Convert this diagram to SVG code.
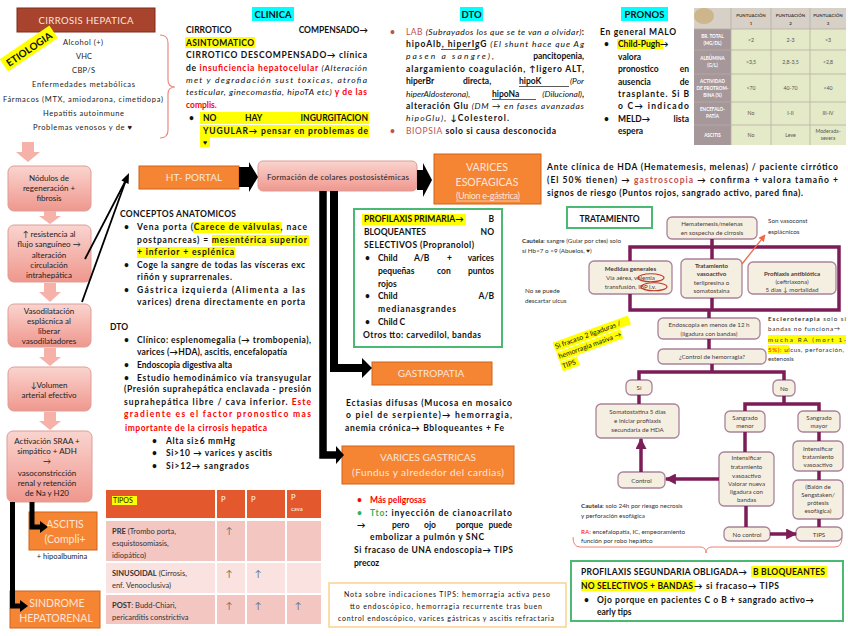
<svg xmlns="http://www.w3.org/2000/svg" width="848" height="636" viewBox="0 0 848 636">
<defs>
<linearGradient id="pk" x1="0" y1="0" x2="0" y2="1"><stop offset="0" stop-color="#fad4cf"/><stop offset="1" stop-color="#ef978d"/></linearGradient>
<marker id="pa" viewBox="0 0 10 10" refX="9" refY="5" markerWidth="11" markerHeight="11" markerUnits="userSpaceOnUse" orient="auto"><path d="M0,0L10,5L0,10z" fill="#7c1d58"/></marker>
<marker id="oa" viewBox="0 0 10 10" refX="9" refY="5" markerWidth="7" markerHeight="7" markerUnits="userSpaceOnUse" orient="auto"><path d="M0,0L10,5L0,10z" fill="#ee6a44"/></marker>
</defs>
<style>
svg{font-family:Lato,'Liberation Sans','DejaVu Sans',sans-serif;font-size:8.5px;font-weight:700}
text{fill:#111}
.n{font-weight:400}
.i{font-style:italic;font-weight:400}
.r{fill:#ff0000}
.rb{fill:#c0504d}
.gr{fill:#2eb060}
.w{fill:#fff}
.wp{fill:#fde6dc}
.c{text-anchor:middle}
.e{text-anchor:end}
.pink{fill:url(#pk);stroke:#dd9e96;stroke-width:1}
.org{fill:#f58532;stroke:#d0631c;stroke-width:1}
.grn{fill:#fff;stroke:#4bb874;stroke-width:2}
.hy{fill:#ffff00}
.hc{fill:#00ffff}
.fb{fill:#f5efe1;stroke:#a9839a;stroke-width:1.3}
.ft{font-size:6.2px;font-weight:400;fill:#4a3a3a}
.fbo{font-weight:700}
.sm{font-size:6.3px;font-weight:400;fill:#333}
.et{font-size:7.5px;font-weight:400;fill:#222}
.bx{font-size:8px;font-weight:400;fill:#222}
.tb{font-size:7.5px;font-weight:400;fill:#333}
.pl{stroke:#7c1d58;stroke-width:3.5;fill:none}
.pka{fill:#f6b1a8}
.cph{font-size:4.4px;font-weight:700;fill:#4a3f3a}
.cpl{font-size:4.6px;font-weight:700;fill:#fff}
.cpd{font-size:5.2px;font-weight:400;fill:#555}
.up{font-size:9px;font-weight:400;fill:#666}
</style>
<rect width="848" height="636" fill="#fff"/>

<g id="cirrosis">
<rect x="17" y="8" width="138" height="24" fill="#a8432d" stroke="#7a2c1c"/>
<text x="86" y="24" class="c n wp" font-size="9.5" textLength="95">CIRROSIS HEPATICA</text>
</g>

<g id="etiologia">
<g transform="translate(29,49) rotate(-34)">
<rect x="-30" y="-8" width="60" height="15" class="hy"/>
<text x="0" y="3.8" class="c" font-size="10">ETIOLOGIA</text>
</g>
<text x="83" y="45" class="c et" textLength="40">Alcohol (+)</text>
<text x="84" y="59" class="c et" textLength="16">VHC</text>
<text x="83.5" y="73" class="c et" textLength="23">CBP/S</text>
<text x="83.5" y="87" class="c et" textLength="103">Enfermedades metabólicas</text>
<text x="83" y="102" class="c et" textLength="160">Fármacos (MTX, amiodarona, cimetidopa)</text>
<text x="83.5" y="116" class="c et" textLength="81">Hepatitis autoinmune</text>
<text x="82.5" y="130" class="c et" textLength="99">Problemas venosos y de ♥</text>
<path d="M160,35 Q168,35 168,43 V80 Q168,87 175,87 Q168,87 168,94 V130 Q168,138 160,138" fill="none" stroke="#ec8a80" stroke-width="1.2"/>
</g>

<g id="nodulos">
<rect x="8" y="166" width="83" height="45" rx="6" class="pink"/>
<text x="49" y="181" class="c bx">Nódulos de</text>
<text x="49" y="191" class="c bx">regeneración +</text>
<text x="49" y="201" class="c bx">fibrosis</text>
</g>
<g id="resistencia">
<rect x="8" y="225" width="83" height="57" rx="6" class="pink"/>
<text x="49" y="237" class="c bx">↑ resistencia al</text>
<text x="49" y="247" class="c bx">flujo sanguíneo →</text>
<text x="49" y="258" class="c bx">alteración</text>
<text x="49" y="268" class="c bx">circulación</text>
<text x="49" y="278" class="c bx">intrahepática</text>
</g>
<g id="vasodilatacion">
<rect x="8" y="304" width="83" height="43" rx="6" class="pink"/>
<text x="49" y="314" class="c bx">Vasodilatación</text>
<text x="49" y="324" class="c bx">esplácnica al</text>
<text x="49" y="334" class="c bx">liberar</text>
<text x="49" y="344" class="c bx">vasodilatadores</text>
</g>
<g id="volumen">
<rect x="8" y="367" width="83" height="44" rx="6" class="pink"/>
<text x="49" y="388" class="c bx">↓Volumen</text>
<text x="49" y="398" class="c bx">arterial efectivo</text>
</g>
<g id="sraa">
<rect x="7" y="431" width="85" height="71" rx="6" class="pink"/>
<text x="47" y="444" class="c bx">Activación SRAA +</text>
<text x="47" y="454" class="c bx">simpático + ADH</text>
<text x="47" y="464" class="c bx">→</text>
<text x="47" y="476" class="c bx">vasoconstricción</text>
<text x="47" y="486" class="c bx">renal y retención</text>
<text x="47" y="496" class="c bx">de Na y H20</text>
</g>
<g id="ascitis">
<rect x="29" y="512" width="68" height="38" class="org"/>
<text x="65" y="528" class="c n wp" font-size="10.5">ASCITIS</text>
<text x="65" y="543" class="c n wp" font-size="10.5">(Compli+</text>
<text x="62" y="559" class="c et">+ hipoalbumina</text>
</g>
<g id="hepatorenal">
<rect x="10" y="591" width="90" height="37" class="org"/>
<text x="57" y="607" class="c n wp" font-size="10.5">SINDROME</text>
<text x="56" y="622" class="c n wp" font-size="10.5">HEPATORENAL</text>
</g>

<g id="htportal">
<rect x="139" y="166" width="100" height="23" class="org"/>
<text x="194" y="181" class="c n wp" font-size="10">HT- PORTAL</text>
</g>
<g id="colaterales">
<rect x="258" y="161" width="159" height="30" rx="5" class="pink"/>
<text x="338" y="180" class="c bx" textLength="142">Formación de colares postosistémicas</text>
</g>
<g id="varicesesof">
<rect x="434" y="154" width="107" height="50" class="org"/>
<text x="487" y="171" class="c n wp" font-size="10.5">VARICES</text>
<text x="487" y="186" class="c n wp" font-size="10.5">ESOFAGICAS</text>
<text x="488" y="199" class="c n wp" font-size="9" textLength="64">(Union e-gástrica)</text>
<line x1="456" y1="201" x2="520" y2="201" stroke="#fde6dc" stroke-width="0.7"/>
</g>

<g id="clinica">
<rect class="hc" x="252" y="7" width="42" height="14"/>
<text x="273" y="18" class="c" font-size="9.5">CLINICA</text>
<rect class="hy" x="185" y="37" width="70" height="11"/>
<rect class="hy" x="200" y="112" width="169" height="12"/>
<rect class="hy" x="200" y="125" width="169" height="12"/>
<rect class="hy" x="200" y="137" width="10" height="10"/>
<text x="186" y="33">CIRROTICO</text>
<text x="368" y="33" class="e">COMPENSADO→</text>
<text x="186" y="46" textLength="68">ASINTOMATICO</text>
<text x="186" y="58" textLength="181">CIRROTICO DESCOMPENSADO→ clínica</text>
<text x="186" y="71" textLength="181">de <tspan class="r">insuficiencia hepatocelular</tspan> <tspan class="i">(Alteración</tspan></text>
<text x="186" y="83" textLength="181" class="i">met y degradación sust toxicas, atrofia</text>
<text x="186" y="95" textLength="181"><tspan class="i">testicular, ginecomastia, hipoTA etc)</tspan><tspan class="r"> y de las</tspan></text>
<text x="186" y="108" class="r">complis.</text>
<text x="189" y="121">•</text>
<text x="203" y="121">NO</text>
<text x="245" y="121">HAY</text>
<text x="368" y="121" class="e">INGURGITACION</text>
<text x="203" y="134" textLength="165">YUGULAR→ pensar en problemas de</text>
<text x="203" y="145" font-size="7">♥</text>
</g>

<g id="dtolab">
<rect class="hc" x="460" y="7" width="23" height="14"/>
<text x="471.5" y="18" class="c" font-size="9.5">DTO</text>
<text x="390" y="35" class="rb">•</text>
<text x="406" y="35" textLength="178"><tspan class="rb n">LAB </tspan><tspan class="i">(Subrayados los que se te van a olvidar)</tspan>:</text>
<text x="406" y="47" textLength="178">hipoAlb, hiperIgG <tspan class="i">(El shunt hace que Ag</tspan></text>
<line x1="441" y1="49.5" x2="477" y2="49.5" stroke="#111" stroke-width="0.7"/>
<text x="406" y="59" class="i" textLength="88">pasen a sangre),</text>
<text x="584" y="59" class="e">pancitopenia,</text>
<text x="406" y="72" textLength="178">alargamiento coagulación, ↑ligero ALT,</text>
<text x="406" y="84">hiperBr</text>
<text x="463" y="84">directa,</text>
<text x="519" y="84">hipoK</text>
<text x="584" y="84" class="e i">(Por</text>
<line x1="519" y1="86.5" x2="569" y2="86.5" stroke="#111" stroke-width="0.7"/>
<text x="406" y="97" class="i">hiperAldosterona),</text>
<text x="492" y="97">hipoNa</text>
<text x="584" y="97" class="e"><tspan class="i">(Dilucional)</tspan>,</text>
<line x1="492" y1="99.5" x2="536" y2="99.5" stroke="#111" stroke-width="0.7"/>
<text x="406" y="109" textLength="178">alteración Glu <tspan class="i">(DM → en fases avanzadas</tspan></text>
<text x="406" y="121" textLength="103"><tspan class="i">hipoGlu),</tspan> ↓Colesterol.</text>
<text x="390" y="134" class="rb">•</text>
<text x="406" y="134" textLength="150"><tspan class="rb n">BIOPSIA</tspan> solo si causa desconocida</text>
</g>

<g id="pronos">
<rect class="hc" x="621" y="7" width="47" height="14"/>
<text x="644.5" y="18" class="c" font-size="9.5">PRONOS</text>
<text x="600" y="35" textLength="76">En general MALO</text>
<rect class="hy" x="617" y="39" width="46" height="10"/>
<text x="604" y="47">•</text>
<text x="618" y="47">Child-Pugh→</text>
<text x="618" y="60">valora</text>
<text x="618" y="72">pronostico</text><text x="689" y="72" class="e">en</text>
<text x="618" y="85">ausencia</text><text x="689" y="85" class="e">de</text>
<text x="618" y="97" textLength="71">trasplante. Si B</text>
<text x="618" y="109" textLength="71">o C→ indicado</text>
<text x="604" y="122">•</text>
<text x="618" y="122">MELD→</text><text x="689" y="122" class="e">lista</text>
<text x="618" y="134">espera</text>
</g>

<g id="childpugh">
<rect x="694" y="8" width="152" height="137" fill="#e4e9c7"/>
<rect x="694" y="8" width="152" height="21" fill="#d7d0c6"/>
<rect x="694" y="29" width="37" height="116" fill="#a6979b"/>
<ellipse cx="704" cy="16" rx="10" ry="8" fill="#cdb68c"/>
<g stroke="#b6aea4" stroke-width="0.8">
<line x1="731" y1="8" x2="731" y2="145"/><line x1="771" y1="8" x2="771" y2="145"/><line x1="810" y1="8" x2="810" y2="145"/>
<line x1="694" y1="29" x2="846" y2="29"/><line x1="694" y1="50" x2="846" y2="50"/><line x1="694" y1="74" x2="846" y2="74"/><line x1="694" y1="102" x2="846" y2="102"/><line x1="694" y1="125" x2="846" y2="125"/>
</g>
<text x="751" y="17" class="c cph">PUNTUACIÓN</text><text x="751" y="25" class="c cph">1</text>
<text x="790.5" y="17" class="c cph">PUNTUACIÓN</text><text x="790.5" y="25" class="c cph">2</text>
<text x="828" y="17" class="c cph">PUNTUACIÓN</text><text x="828" y="25" class="c cph">3</text>
<text x="712.5" y="38" class="c cpl">BR. TOTAL</text><text x="712.5" y="45" class="c cpl" font-size="3.8">(MG/DL)</text>
<text x="712.5" y="60" class="c cpl">ALBÚMINA</text><text x="712.5" y="67" class="c cpl" font-size="3.8">(G/L)</text>
<text x="712.5" y="83" class="c cpl">ACTIVIDAD</text><text x="712.5" y="90" class="c cpl">DE PROTROM-</text><text x="712.5" y="97" class="c cpl">BINA (%)</text>
<text x="712.5" y="111" class="c cpl">ENCEFALO-</text><text x="712.5" y="118" class="c cpl">PATÍA</text>
<text x="712.5" y="137" class="c cpl">ASCITIS</text>
<text x="751" y="42" class="c cpd">&lt;2</text><text x="790.5" y="42" class="c cpd">2-3</text><text x="828" y="42" class="c cpd">&gt;3</text>
<text x="751" y="64" class="c cpd">&gt;3,5</text><text x="790.5" y="64" class="c cpd">2,8-3,5</text><text x="828" y="64" class="c cpd">&lt;2,8</text>
<text x="751" y="90" class="c cpd">&gt;70</text><text x="790.5" y="90" class="c cpd">40-70</text><text x="828" y="90" class="c cpd">&lt;40</text>
<text x="751" y="115" class="c cpd">No</text><text x="790.5" y="115" class="c cpd">I-II</text><text x="828" y="115" class="c cpd">III-IV</text>
<text x="751" y="137" class="c cpd">No</text><text x="790.5" y="137" class="c cpd">Leve</text><text x="828" y="133" class="c cpd" font-size="4.6">Moderada-</text><text x="828" y="140" class="c cpd" font-size="4.6">severa</text>
</g>

<g id="anteclinica">
<text x="547" y="170" textLength="291">Ante clínica de HDA (Hematemesis, melenas) / paciente cirrótico</text>
<text x="547" y="183" textLength="291">(El 50% tienen) → <tspan class="rb">gastroscopia</tspan> → confirma + valora tamaño +</text>
<text x="547" y="196" textLength="256">signos de riesgo (Puntos rojos, sangrado activo, pared fina).</text>
</g>

<g id="conceptos">
<rect class="hy" x="193" y="222" width="89" height="11"/>
<rect class="hy" x="212" y="235" width="97" height="11"/>
<rect class="hy" x="137" y="247" width="98" height="11"/>
<text x="120" y="217" textLength="116">CONCEPTOS ANATOMICOS</text>
<text x="124" y="230">•</text>
<text x="137" y="230" textLength="170">Vena porta (Carece de válvulas, nace</text>
<text x="137" y="243" textLength="170">postpancreas) = mesentérica superior</text>
<text x="137" y="255" textLength="97">+ inferior + esplénica</text>
<text x="124" y="268">•</text>
<text x="137" y="268" textLength="168">Coge la sangre de todas las vísceras exc</text>
<text x="137" y="280" textLength="95">riñón y suprarrenales.</text>
<text x="124" y="293">•</text>
<text x="137" y="293" textLength="168">Gástrica izquierda (Alimenta a las</text>
<text x="137" y="305" textLength="168">varices) drena directamente en porta</text>
</g>
<g id="dtoportal">
<text x="110" y="330">DTO</text>
<text x="124" y="343">•</text>
<text x="137" y="343" textLength="174">Clínico: esplenomegalia (→ trombopenia),</text>
<text x="137" y="355" textLength="150">varices (→HDA), ascitis, encefalopatía</text>
<text x="124" y="368">•</text>
<text x="137" y="368" textLength="95">Endoscopia digestiva alta</text>
<text x="124" y="381">•</text>
<text x="137" y="381" textLength="174">Estudio hemodinámico vía transyugular</text>
<text x="124" y="392" textLength="187">(Presión suprahepática enclavada - presión</text>
<text x="124" y="405" textLength="187">suprahepática libre / cava inferior. <tspan class="r">Este</tspan></text>
<text x="124" y="417" textLength="187" class="r">gradiente es el factor pronostico mas</text>
<text x="125" y="431" textLength="142" class="r">importante de la cirrosis hepatica</text>
<text x="152" y="444">•</text><text x="166" y="444" textLength="69">Alta si≥6 mmHg</text>
<text x="152" y="456">•</text><text x="166" y="456" textLength="106">Si&gt;10 → varices y ascitis</text>
<text x="152" y="469">•</text><text x="166" y="469" textLength="83">Si&gt;12→ sangrados</text>
</g>

<g id="tipos">
<rect x="106" y="490" width="215" height="28" fill="#e4582d"/>
<rect x="106" y="521" width="215" height="40" fill="#f3c6c2"/>
<rect x="106" y="563" width="215" height="30" fill="#f9e2df"/>
<rect x="106" y="595" width="215" height="29" fill="#f3c6c2"/>
<g stroke="#fff" stroke-width="2"><line x1="216" y1="490" x2="216" y2="624"/><line x1="246" y1="490" x2="246" y2="624"/><line x1="286" y1="490" x2="286" y2="624"/></g>
<rect class="hy" x="112" y="496" width="25" height="9"/>
<text x="113" y="503" class="n" font-size="7">TIPOS</text>
<text x="221" y="502" class="w n" font-size="7.5">P</text>
<text x="251" y="502" class="w n" font-size="7.5">P</text>
<text x="291" y="500" class="w n" font-size="7.5">P</text>
<text x="291" y="511" class="w n" font-size="6">cava</text>
<text x="112" y="534" class="tb"><tspan font-weight="700">PRE</tspan> (Trombo porta,</text>
<text x="112" y="546" class="tb">esquistosomiasis,</text>
<text x="112" y="558" class="tb">idiopático)</text>
<text x="112" y="576" class="tb"><tspan font-weight="700">SINUSOIDAL</tspan> (Cirrosis,</text>
<text x="112" y="588" class="tb">enf. Venooclusiva)</text>
<text x="112" y="608" class="tb"><tspan font-weight="700">POST</tspan>: Budd-Chiari,</text>
<text x="112" y="620" class="tb">pericarditis constrictiva</text>
<text x="229" y="534" class="c up">↑</text>
<text x="229" y="577" class="c up">↑</text><text x="258" y="577" class="c up">↑</text>
<text x="229" y="609" class="c up">↑</text><text x="258" y="609" class="c up">↑</text><text x="298" y="609" class="c up">↑</text>
</g>

<g id="profprimaria">
<rect x="354" y="209" width="148" height="138" class="grn"/>
<rect class="hy" x="362" y="214" width="104" height="11"/>
<text x="364" y="222">PROFILAXIS PRIMARIA→</text><text x="494" y="222" class="e">B</text>
<text x="364" y="235">BLOQUEANTES</text><text x="494" y="235" class="e">NO</text>
<text x="364" y="248" textLength="110">SELECTIVOS (Propranolol)</text>
<text x="365" y="261">•</text><text x="378" y="261">Child</text><text x="414" y="261">A/B</text><text x="447" y="261">+</text><text x="494" y="261" class="e">varices</text>
<text x="378" y="274">pequeñas</text><text x="437" y="274">con</text><text x="494" y="274" class="e">puntos</text>
<text x="378" y="287">rojos</text>
<text x="365" y="299">•</text><text x="378" y="299">Child</text><text x="494" y="299" class="e">A/B</text>
<text x="378" y="312" textLength="78">medianasgrandes</text>
<text x="365" y="325">•</text><text x="378" y="325">Child C</text>
<text x="363" y="338" textLength="118">Otros tto: carvedilol, bandas</text>
</g>

<g id="gastropatia">
<rect x="372" y="362" width="120" height="23" class="org"/>
<text x="431" y="377" class="c n wp" font-size="10">GASTROPATIA</text>
<text x="346" y="406" textLength="166">Ectasias difusas (Mucosa en mosaico</text>
<text x="346" y="418" textLength="166">o piel de serpiente)→ hemorragia,</text>
<text x="345" y="431" textLength="159">anemia crónica→ Bbloqueantes + Fe</text>
</g>

<g id="varicesgast">
<rect x="342" y="446" width="172" height="38" class="org"/>
<text x="428" y="461" class="c n wp" font-size="10" textLength="96">VARICES GASTRICAS</text>
<text x="428" y="476" class="c n wp" font-size="10" textLength="152">(Fundus y alrededor del cardias)</text>
<text x="357" y="503" class="r">•</text><text x="370" y="503" class="r">Más peligrosas</text>
<text x="357" y="516" class="gr">•</text><text x="370" y="516" textLength="142"><tspan class="gr">Tto</tspan>: inyección de cianoacrilato</text>
<text x="357" y="528">→</text><text x="392" y="528">pero</text><text x="424" y="528">ojo</text><text x="456" y="528">porque</text><text x="512" y="528" class="e">puede</text>
<text x="370" y="540" textLength="114">embolizar a pulmón y SNC</text>
<text x="354" y="553" textLength="159">Si fracaso de UNA endoscopia→ TIPS</text>
<text x="354" y="566">precoz</text>
</g>

<g id="nota">
<rect x="329" y="583" width="237" height="44" fill="#fff" stroke="#fbd28e" stroke-width="1.5"/>
<text x="447" y="597" class="c n" font-size="7" textLength="206">Nota sobre indicaciones TIPS: hemorragia activa peso</text>
<text x="446" y="609" class="c n" font-size="7" textLength="192">tto endoscópico, hemorragia recurrente tras buen</text>
<text x="446" y="621" class="c n" font-size="7" textLength="216">control endoscópico, varices gástricas y ascitis refractaria</text>
</g>

<g id="tratamiento">
<rect x="567" y="207" width="85" height="21" class="grn"/>
<text x="609.5" y="222" class="c">TRATAMIENTO</text>
</g>
<g id="notasflujo">
<text x="522" y="243" class="sm"><tspan font-weight="700">Cautela</tspan>: sangre (Guiar por ctes) solo</text>
<text x="522" y="253" class="sm">si Hb&lt;7 o &lt;9 (Abuelos, ♥)</text>
<text x="525" y="293" class="sm" font-size="6.8">No se puede</text>
<text x="525" y="303" class="sm" font-size="6.8">descartar ulcus</text>
<text x="768" y="223" class="sm">Son vasoconst</text>
<text x="768" y="234" class="sm">esplácnicos</text>
<rect class="hy" x="768" y="335" width="78" height="9"/>
<rect class="hy" x="768" y="345" width="21" height="9"/>
<text x="768" y="321" class="sm" textLength="78"><tspan font-weight="700">Escleroterapia</tspan> solo si</text>
<text x="768" y="331" class="sm" textLength="72">bandas no funciona→</text>
<text x="768" y="342" class="sm r" textLength="78">mucha RA (mort 1-</text>
<text x="768" y="352" class="sm" textLength="76"><tspan class="r">5%):</tspan> ulcus, perforación,</text>
<text x="768" y="361" class="sm" font-size="5.5">estenosis</text>
<g transform="translate(556,349) rotate(-20)">
<rect x="-1" y="-7" width="80" height="9.5" class="hy"/>
<rect x="-1" y="3.5" width="68" height="9.5" class="hy"/>
<rect x="-1" y="14" width="18" height="9.5" class="hy"/>
<text x="0" y="0" class="n" font-size="7">Si fracaso 2 ligaduras /</text>
<text x="0" y="10.5" class="n" font-size="7">hemorragia masiva →</text>
<text x="0" y="21" class="n" font-size="7">TIPS</text>
</g>
<text x="581" y="508" class="sm"><tspan font-weight="700">Cautela</tspan>: solo 24h por riesgo necrosis</text>
<text x="581" y="518" class="sm">y perforación esofágica</text>
<text x="581" y="534" class="sm"><tspan class="r">RA</tspan>: encefalopatía, IC, empeoramiento</text>
<text x="581" y="543" class="sm">función por robo hepático</text>
<path d="M573,537 Q573,547 580,547 H700 Q706,547 706,553 Q706,547 712,547 H835 Q842,547 842,537" fill="none" stroke="#ef8070" stroke-width="1"/>
</g>

<g id="hematemesis"><rect x="667" y="217" width="90" height="22" rx="5" class="fb"/>
<text x="712" y="226" class="c ft">Hematemesis/melenas</text><text x="712" y="235" class="c ft">en sospecha de cirrosis</text></g>
<g id="medidas"><rect x="589" y="261" width="83" height="33" rx="5" class="fb"/>
<text x="630.5" y="271" class="c ft fbo">Medidas generales</text>
<text x="630.5" y="280" class="c ft">Vía aérea, volemia</text>
<text x="630.5" y="289" class="c ft">transfusión, IBP i.v.</text>
<ellipse cx="651" cy="277.8" rx="13" ry="4" fill="none" stroke="#c0392b" stroke-width="1.1"/>
<ellipse cx="654" cy="286.8" rx="13" ry="4" fill="none" stroke="#c0392b" stroke-width="1.1"/></g>
<g id="vasoactivo"><rect x="681" y="259" width="61" height="39" rx="5" class="fb"/>
<text x="711.5" y="268" class="c ft fbo">Tratamiento</text><text x="711.5" y="276" class="c ft fbo">vasoactivo</text>
<text x="711.5" y="285" class="c ft">terlipresina o</text><text x="711.5" y="293" class="c ft">somatostaina</text></g>
<g id="antibiotica"><rect x="748" y="262" width="88" height="32" rx="5" class="fb"/>
<text x="792" y="276" class="c ft fbo">Profilaxis antibiótica</text><text x="792" y="284" class="c ft">(ceftriaxona)</text><text x="792" y="292" class="c ft">5 días ↓ mortalidad</text></g>
<g id="endoscopia"><rect x="658" y="318" width="102" height="21" rx="5" class="fb"/>
<text x="709" y="327" class="c ft">Endoscopia en menos de 12 h</text><text x="709" y="336" class="c ft">(ligadura con bandas)</text></g>
<g id="controlhem"><rect x="658" y="349" width="108" height="15" rx="5" class="fb"/>
<text x="712" y="359" class="c ft" font-size="6.6">¿Control de hemorragia?</text></g>
<g id="si"><rect x="626" y="380" width="26" height="15" rx="5" class="fb"/><text x="639" y="390" class="c ft" font-size="6.6">Sí</text></g>
<g id="no"><rect x="773" y="380" width="22" height="16" rx="5" class="fb"/><text x="784" y="391" class="c ft" font-size="6.6">No</text></g>
<g id="somatostatina"><rect x="596" y="404" width="83" height="34" rx="5" class="fb"/>
<text x="637.5" y="414" class="c ft">Somatostatina 5 días</text><text x="637.5" y="423" class="c ft">e iniciar profilaxis</text><text x="637.5" y="432" class="c ft">secundaria de HDA</text></g>
<g id="sangmenor"><rect x="725" y="411" width="40" height="21" rx="5" class="fb"/>
<text x="745" y="420" class="c ft">Sangrado</text><text x="745" y="428" class="c ft">menor</text></g>
<g id="sangmayor"><rect x="798" y="411" width="42" height="21" rx="5" class="fb"/>
<text x="819" y="420" class="c ft">Sangrado</text><text x="819" y="428" class="c ft">mayor</text></g>
<g id="intensificar1"><rect x="719" y="452" width="55" height="54" rx="5" class="fb"/>
<text x="746.5" y="460" class="c ft">Intensificar</text><text x="746.5" y="469" class="c ft">tratamiento</text><text x="746.5" y="478" class="c ft">vasoactivo</text>
<text x="746.5" y="486" class="c ft">Valorar nueva</text><text x="746.5" y="494" class="c ft">ligadura con</text><text x="746.5" y="502" class="c ft">bandas</text></g>
<g id="control"><rect x="618" y="472" width="47" height="16" rx="5" class="fb"/><text x="641.5" y="482.5" class="c ft" font-size="6.6">Control</text></g>
<g id="intensificar2"><rect x="793" y="441" width="50" height="30" rx="5" class="fb"/>
<text x="818" y="451" class="c ft">Intensificar</text><text x="818" y="459" class="c ft">tratamiento</text><text x="818" y="467" class="c ft">vasoactivo</text></g>
<g id="balon"><rect x="793" y="480" width="50" height="39" rx="5" class="fb"/>
<text x="818" y="489" class="c ft">(Balón de</text><text x="818" y="497" class="c ft">Sengstaken/</text><text x="818" y="505" class="c ft">prótesis</text><text x="818" y="513" class="c ft">esofágica)</text></g>
<g id="nocontrol"><rect x="724" y="527" width="46" height="14" rx="5" class="fb"/><text x="747" y="536.5" class="c ft" font-size="6.6">No control</text></g>
<g id="tips"><rect x="796" y="527" width="46" height="14" rx="5" class="fb"/><text x="819" y="536.5" class="c ft" font-size="6.6">TIPS</text></g>

<g id="profsecundaria">
<rect x="571" y="561" width="272" height="60" class="grn"/>
<rect class="hy" x="751" y="566" width="76" height="11"/>
<rect class="hy" x="581" y="580" width="114" height="11"/>
<text x="581" y="575" textLength="166">PROFILAXIS SEGUNDARIA OBLIGADA→</text>
<text x="753" y="575" textLength="72">B BLOQUEANTES</text>
<text x="581" y="589" textLength="112">NO SELECTIVOS + BANDAS</text>
<text x="694" y="589" textLength="85">→ si fracaso→ TIPS</text>
<text x="584" y="603">•</text>
<text x="597" y="603" textLength="217">Ojo porque en pacientes C o B + sangrado activo→</text>
<text x="597" y="615">early tips</text>
</g>

<g id="connectors">
<path class="pka" d="M22,142H34V152H40L28,162L16,152H22Z"/>
<path class="pka" d="M44,211H56V216H61L50,224L39,216H44Z"/>
<path class="pka" d="M44,283H56V292H61L50,302L39,292H44Z"/>
<path class="pka" d="M44,348H56V357H61L50,366L39,357H44Z"/>
<path class="pka" d="M44,412H56V421H61L50,430L39,421H44Z"/>
<g stroke="#000" fill="none">
<path d="M85,259L126,180" stroke-width="1.8"/>
<path d="M82,302L126,180" stroke-width="1.8"/>
<path d="M12.5,502V606H21" stroke-width="5"/>
<path d="M32,502V527H41" stroke-width="5"/>
<path d="M323,191V455H337" stroke-width="7.5"/>
<path d="M334,191V368H363" stroke-width="8"/>
</g>
<polygon points="129,173 128.6,184 121.4,180.4" fill="#000"/>
<polygon points="20,600 28,606 20,612" fill="#000"/>
<polygon points="40,521 48,527 40,533" fill="#000"/>
<polygon points="336,446 344,455 336,464" fill="#000"/>
<polygon points="362,358 372,368 362,378" fill="#000"/>
<polygon points="239,167 249,167 249,162 258,177 249,192 249,187 239,187" fill="#000"/>
<polygon points="417,170 423,170 423,163 432,180 423,197 423,190 417,190" fill="#000"/>
<g class="pl">
<path d="M712,239V247"/>
<path d="M630,261V247H839V310H630V294"/>
<path d="M712,247V259M712,298V310"/>
<path d="M709,310V318M709,339V349"/>
<path d="M712,364V372M639,380V372H784V380"/>
<path d="M639,395V404"/>
<path d="M784,396V404M745,411V404H819V411"/>
<path d="M745,432V452"/>
<path d="M746,506V527"/>
<path d="M819,432V441M819,471V480M819,519V527"/>
<path d="M719,479H666" marker-end="url(#pa)"/>
<path d="M641,472V439" marker-end="url(#pa)"/>
<path d="M770,534H796" marker-end="url(#pa)"/>
</g>
<path d="M742,264L765,235" stroke="#ee6a44" stroke-width="1.3" fill="none" marker-end="url(#oa)"/>
</g>
</svg>
